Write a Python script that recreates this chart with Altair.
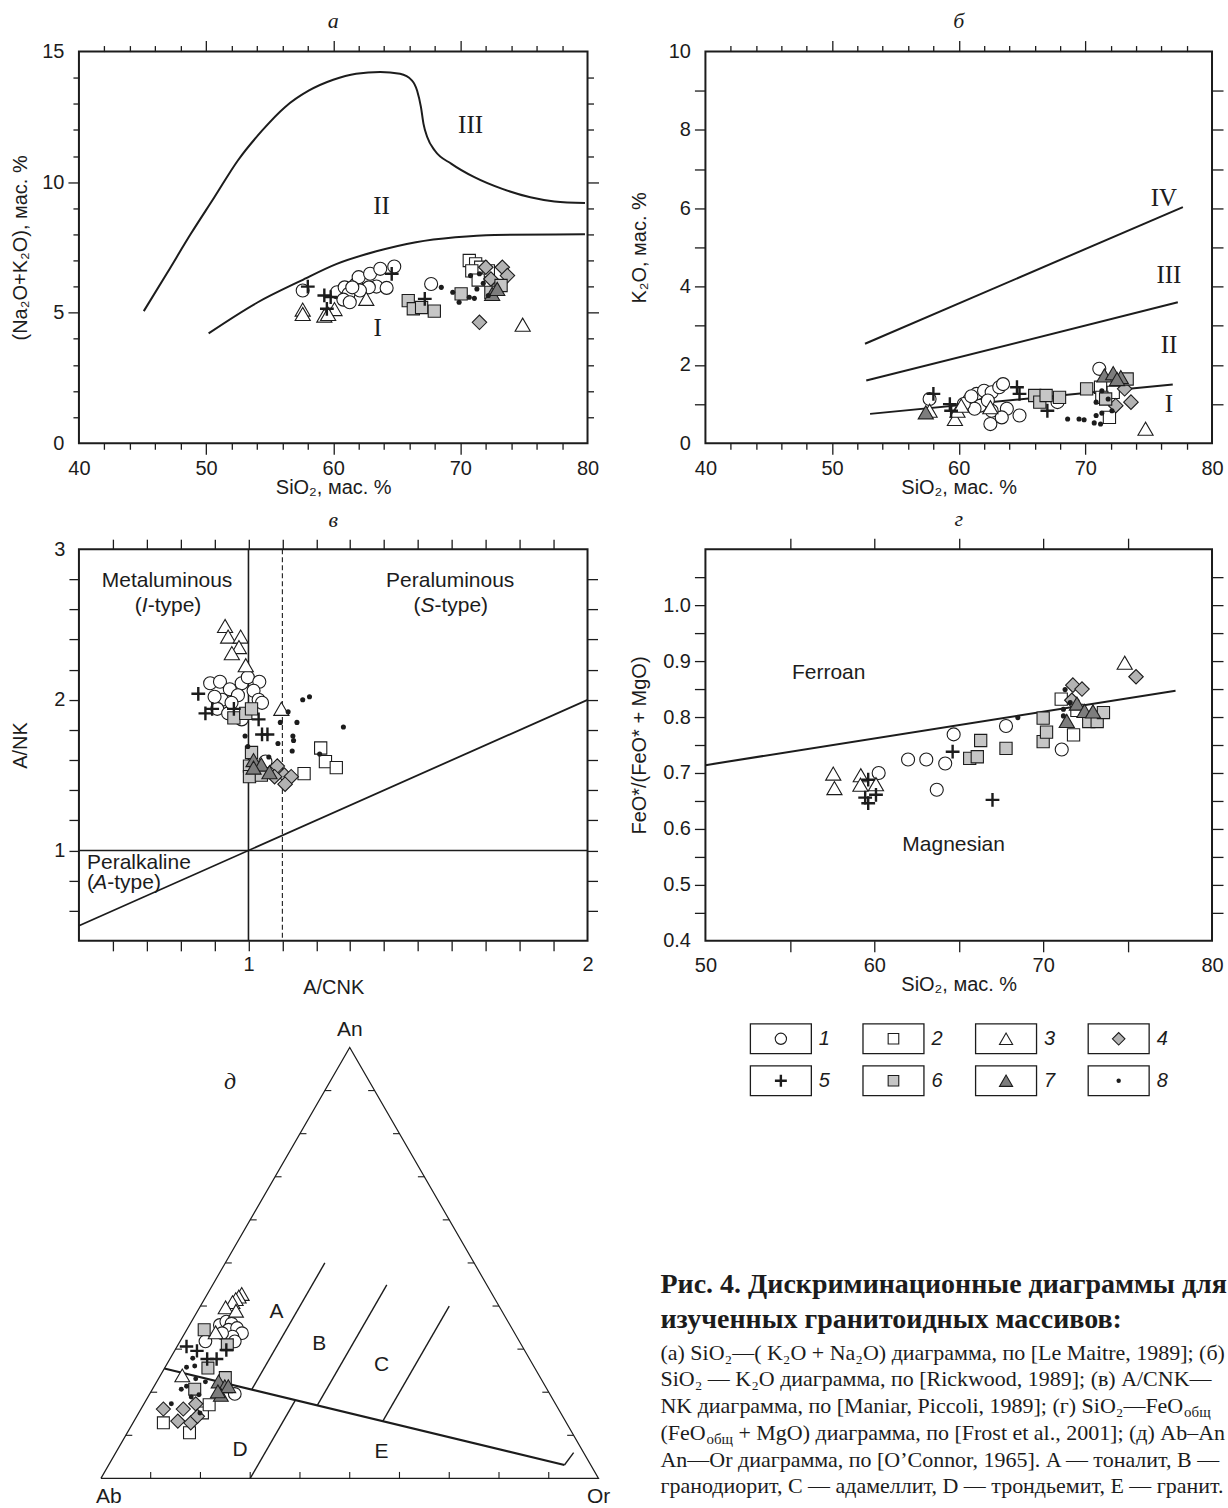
import math
import altair as alt
import pandas as pd

INK = "#1c1c1c"
SANS = "Liberation Sans"
SERIF = "Liberation Serif"
H3 = math.sqrt(3) / 2
CUT = "\u200b"  # invisible end marker used when long caption lines are trimmed

# ---------------------------------------------------------------------------
# (а) SiO2 – (Na2O+K2O): field boundaries
TAS_UPPER_SIO2 = [45.1, 46.9, 48.8, 50.65, 52.5, 54.4, 56.2, 58.1, 60.0, 61.8, 63.7, 65.25,
                  66.2, 66.6, 66.9, 67.1, 67.4, 68.0, 69.3, 71.1, 73.3, 75.5, 77.4, 79.8]
TAS_UPPER_ALK = [5.06, 6.49, 8.02, 9.42, 10.83, 11.97, 12.87, 13.51, 13.92, 14.15, 14.22, 14.15,
                 13.89, 13.5, 12.87, 12.23, 11.72, 11.2, 10.7, 10.19, 9.74, 9.42, 9.26, 9.2]
TAS_LOWER_SIO2 = [50.2, 54.07, 57.48, 60.28, 63.39, 66.5, 69.6, 72.7, 79.8]
TAS_LOWER_ALK = [4.21, 5.40, 6.23, 6.87, 7.35, 7.70, 7.89, 7.98, 8.0]
TAS_FIELDS = [("III", 70.8, 12.2), ("II", 63.8, 9.1), ("I", 63.5, 4.4)]

TAS_POINTS = {
    "1": [(57.6, 5.85), (60.3, 5.78), (60.9, 5.97), (61.2, 5.72), (61.8, 6.1), (62.0, 6.36),
          (62.9, 6.49), (63.7, 6.68), (64.8, 6.77), (63.4, 6.0), (64.2, 5.95), (62.8, 5.97),
          (62.1, 5.85), (61.5, 5.97), (67.7, 6.1), (60.8, 5.5), (61.3, 5.4)],
    "2": [(70.7, 7.0), (71.2, 6.87), (71.6, 6.74), (72.2, 6.6), (70.9, 6.6), (71.4, 6.25)],
    "3": [(57.6, 5.12), (57.6, 4.95), (59.3, 4.89), (60.1, 5.14), (62.6, 5.53), (74.9, 4.54),
          (59.6, 4.95)],
    "4": [(71.5, 4.63), (72.0, 6.74), (73.3, 6.74), (73.7, 6.42), (72.4, 6.29), (72.9, 5.97)],
    "5": [(58.0, 6.0), (59.3, 5.66), (59.5, 5.15), (64.6, 6.49), (67.2, 5.53), (59.8, 5.6)],
    "6": [(65.9, 5.46), (66.3, 5.15), (66.95, 5.2), (67.95, 5.06), (70.06, 5.72), (73.2, 6.04),
          (72.4, 5.78)],
    "7": [(72.5, 5.72), (72.9, 5.91)],
    "8": [(68.5, 5.97), (69.4, 5.78), (69.9, 5.4), (70.7, 5.59), (71.1, 5.55), (70.8, 6.42),
          (71.5, 6.49), (71.3, 5.91), (71.8, 6.13), (72.2, 5.66)],
}

# (б) SiO2 – K2O series boundaries
K2O_LINES = {
    "IV": ([52.6, 77.7], [2.54, 6.03]),
    "III": ([52.7, 77.3], [1.6, 3.6]),
    "II": ([53.0, 76.9], [0.75, 1.5]),
}
K2O_FIELDS = [("IV", 76.2, 6.25), ("III", 76.6, 4.3), ("II", 76.6, 2.5), ("I", 76.6, 1.0)]
K2O_POINTS = {
    "1": [(57.7, 1.13), (62.5, 0.49), (64.8, 0.71), (63.8, 0.88), (61.4, 1.26), (62.0, 1.34),
          (62.6, 1.30), (63.2, 1.43), (63.5, 1.51), (67.8, 1.05), (71.1, 1.9), (60.8, 1.09),
          (61.7, 0.96), (62.6, 0.83), (63.4, 0.66), (61.25, 0.88), (62.3, 1.09), (71.3, 1.34),
          (60.4, 1.0), (61.0, 1.2)],
    "2": [(71.2, 1.43), (72.2, 1.30), (71.9, 0.66), (71.3, 1.17)],
    "3": [(57.7, 0.83), (59.7, 0.62), (59.9, 0.83), (62.5, 0.92), (60.2, 0.96), (74.75, 0.37)],
    "4": [(73.1, 1.39), (73.6, 1.05), (72.4, 0.96)],
    "5": [(58.0, 1.26), (59.3, 1.0), (59.4, 0.83), (64.6, 1.43), (64.8, 1.26), (67.0, 0.83)],
    "6": [(66.0, 1.22), (66.4, 1.05), (66.9, 1.22), (67.96, 1.17), (70.1, 1.39), (73.3, 1.64),
          (71.6, 1.13)],
    "7": [(57.4, 0.79), (71.5, 1.73), (72.2, 1.79), (72.8, 1.69), (72.5, 1.64)],
    "8": [(68.6, 0.62), (69.5, 0.62), (69.9, 0.6), (70.7, 0.52), (71.2, 0.49), (70.85, 0.71),
          (71.3, 0.77), (70.85, 1.05), (71.3, 1.34), (71.8, 1.13), (72.1, 0.83)],
}

# (в) A/CNK – A/NK
SHAND_DIAG = ([0.5, 2.0], [0.5, 2.0])
SHAND_POINTS = {
    "1": [(0.887, 2.11), (0.916, 2.12), (0.945, 2.07), (0.98, 2.11), (0.998, 2.15), (1.032, 2.12),
          (1.015, 2.06), (0.922, 2.0), (0.969, 2.03), (0.908, 1.94), (0.94, 1.91), (0.98, 1.87),
          (1.03, 2.0), (1.04, 1.98), (1.05, 1.59), (0.95, 1.98), (0.9, 2.02)],
    "2": [(1.213, 1.68), (1.227, 1.59), (1.259, 1.55), (1.164, 1.51)],
    "3": [(0.931, 2.49), (0.94, 2.42), (0.977, 2.42), (0.972, 2.35), (0.951, 2.31), (0.992, 2.23),
          (1.097, 1.94)],
    "4": [(1.085, 1.56), (1.106, 1.50), (1.126, 1.49), (1.108, 1.44), (1.077, 1.49)],
    "5": [(0.852, 2.04), (0.873, 1.91), (0.893, 1.94), (0.957, 1.94), (1.03, 1.87), (1.04, 1.77),
          (1.056, 1.77)],
    "6": [(0.957, 1.88), (0.992, 1.91), (1.009, 1.94), (1.009, 1.65), (1.003, 1.56), (1.003, 1.49),
          (1.038, 1.50)],
    "7": [(1.015, 1.60), (1.038, 1.57), (1.062, 1.52), (1.015, 1.55)],
    "8": [(1.16, 2.0), (1.18, 2.02), (1.117, 1.92), (1.094, 1.85), (1.143, 1.85), (1.131, 1.76),
          (1.133, 1.73), (1.087, 1.71), (1.129, 1.66), (0.99, 1.76), (0.998, 1.69), (1.21, 1.64),
          (1.28, 1.82), (1.06, 1.62)],
}

# (г) SiO2 – FeO*/(FeO*+MgO)
FROST_LINE = ([50.0, 77.84], [0.714, 0.847])
FROST_FIELDS = [("Ferroan", 57.3, 0.878), ("Magnesian", 64.7, 0.571)]
FROST_POINTS = {
    "1": [(60.26, 0.70), (62.0, 0.724), (63.08, 0.724), (64.2, 0.717), (63.7, 0.67), (64.7, 0.769),
          (67.8, 0.784), (71.1, 0.742)],
    "2": [(71.07, 0.832), (71.8, 0.768), (72.0, 0.812)],
    "3": [(57.57, 0.699), (57.64, 0.673), (59.2, 0.696), (59.18, 0.679), (60.1, 0.68), (74.83, 0.897)],
    "4": [(71.76, 0.857), (72.3, 0.85), (75.5, 0.872), (71.7, 0.83)],
    "5": [(59.64, 0.688), (59.46, 0.656), (59.64, 0.646), (60.1, 0.661), (64.64, 0.738), (67.0, 0.652)],
    "6": [(65.65, 0.726), (66.1, 0.729), (66.3, 0.758), (67.8, 0.744), (70.0, 0.756), (70.0, 0.798),
          (70.2, 0.773), (72.7, 0.792), (73.2, 0.792), (73.57, 0.808)],
    "7": [(71.4, 0.793), (72.0, 0.824), (72.45, 0.811), (72.95, 0.81)],
    "8": [(68.5, 0.799), (71.3, 0.849), (71.6, 0.826), (71.2, 0.814), (71.2, 0.802)],
}

# (д) Ab – An – Or, compositions as (Or, An) fractions
OCONNOR_LINES = {
    "main": [(0.0, 0.255), (0.916, 0.031)],
    "hook": [(0.916, 0.031), (0.92, 0.06)],
    "ab": [(0.20, 0.206), (0.20, 0.50)],
    "bc": [(0.35, 0.169), (0.35, 0.449)],
    "c": [(0.50, 0.1325), (0.50, 0.40)],
    "de": [(0.30, 0.0), (0.30, 0.181)],
}
OCONNOR_FIELDS = [("A", 0.1595, 0.387), ("B", 0.283, 0.3115), ("C", 0.433, 0.262),
                  ("D", 0.247, 0.0655), ("E", 0.533, 0.0617)]
OCONNOR_POINTS = {
    "1": [(0.061, 0.356), (0.070, 0.364), (0.083, 0.359), (0.084, 0.345), (0.099, 0.349),
          (0.115, 0.337), (0.100, 0.329), (0.110, 0.318), (0.051, 0.318), (0.075, 0.337),
          (0.171, 0.196)],
    "2": [(0.061, 0.129), (0.125, 0.106), (0.128, 0.152), (0.132, 0.171)],
    "3": [(0.069, 0.428), (0.066, 0.422), (0.063, 0.416), (0.060, 0.409), (0.052, 0.397),
          (0.077, 0.389), (0.061, 0.339), (0.044, 0.239)],
    "4": [(0.045, 0.161), (0.085, 0.161), (0.088, 0.133), (0.116, 0.129), (0.104, 0.173),
          (0.122, 0.144)],
    "5": [(0.019, 0.306), (0.075, 0.277), (0.094, 0.277), (0.103, 0.298), (0.045, 0.296)],
    "6": [(0.035, 0.345), (0.099, 0.310), (0.087, 0.256), (0.085, 0.207), (0.133, 0.234)],
    "7": [(0.124, 0.225), (0.142, 0.214), (0.144, 0.194), (0.149, 0.214), (0.134, 0.202)],
    "8": [(0.045, 0.279), (0.043, 0.258), (0.058, 0.261), (0.075, 0.231), (0.065, 0.214),
          (0.058, 0.207), (0.098, 0.224), (0.055, 0.173), (0.123, 0.152), (0.100, 0.194),
          (0.087, 0.189)],
}

LEGEND_KEYS = ["1", "2", "3", "4", "5", "6", "7", "8"]

CAPTION_TITLE = ["Рис. 4. Дискриминационные диаграммы для",
                 "изученных гранитоидных массивов:"]
CAPTION_BODY = [
    "(а) SiO₂—( K₂O + Na₂O) диаграмма, по [Le Maitre, 1989]; (б)",
    "SiO₂ — K₂O диаграмма, по [Rickwood, 1989]; (в) A/CNK— A/",
    "NK диаграмма, по [Maniar, Piccoli, 1989]; (г) SiO₂—FeO",
    "(FeO",
    "An—Or диаграмма, по [O’Connor, 1965]. A — тоналит, B —",
    "гранодиорит, C — адамеллит, D — трондьемит, E — гранит.",
]
CAPTION_TAIL = " + MgO) диаграмма, по [Frost et al., 2001]; (д) Ab–An"

# ---------------------------------------------------------------------------
PLUS = "M-1,0H1M0,-1V1"
BOX = "M-1,-0.49L1,-0.49L1,0.49L-1,0.49Z"
MARKERS = {
    "1": dict(shape="circle", fill="white", size=170),
    "2": dict(shape="square", fill="white", size=150),
    "3": dict(shape="triangle-up", fill="white", size=230),
    "4": dict(shape="diamond", fill="#b3b3b3", size=210),
    "5": dict(shape=PLUS, fill=None, size=190),
    "6": dict(shape="square", fill="#c6c6c6", size=150),
    "7": dict(shape="triangle-up", fill="#7d7d7d", size=230),
    "8": dict(shape="circle", fill=INK, size=26),
}
DRAW_ORDER = ["1", "2", "3", "4", "6", "7", "5", "8"]


def lin(domain, reverse=False):
    if reverse:
        return alt.Scale(domain=domain, nice=False, zero=False, reverse=True)
    return alt.Scale(domain=domain, nice=False, zero=False)


def marker_mark(key, scale=1.0):
    st = MARKERS[key]
    kw = dict(shape=st["shape"], size=st["size"] * scale, opacity=1, stroke=INK)
    if key == "5":
        kw.update(filled=False, strokeWidth=2.4)
    elif key == "8":
        kw.update(filled=True, fill=INK, strokeWidth=0)
    else:
        kw.update(filled=True, fill=st["fill"], strokeWidth=1.1)
    return kw


def xy(xs, ys, xf="x", yf="y"):
    return dict(x=alt.X(f"{xf}:Q", scale=xs, axis=None), y=alt.Y(f"{yf}:Q", scale=ys, axis=None))


def groups(points, xs, ys, scale=1.0):
    out = []
    for key in DRAW_ORDER:
        df = pd.DataFrame(points[key], columns=["x", "y"])
        out.append(alt.Chart(df).mark_point(**marker_mark(key, scale)).encode(**xy(xs, ys)))
    return out


def curve(xv, yv, xs, ys, width=2.0, **style):
    df = pd.DataFrame({"x": xv, "y": yv, "i": list(range(len(xv)))})
    return alt.Chart(df).mark_line(color=INK, strokeWidth=width, **style).encode(
        order="i:Q", **xy(xs, ys))


def labels(rows, xs, ys, **style):
    df = pd.DataFrame(rows, columns=["t", "x", "y"])
    return alt.Chart(df).mark_text(color=INK, **style).encode(text="t:N", **xy(xs, ys))


AX_BASE = dict(domain=False, grid=False, tickColor=INK, tickWidth=1.3,
               labelFont=SANS, labelFontSize=20, labelColor=INK,
               labelFlush=False, labelOverlap=False)


def tick_axis(orient, values, size):
    return alt.Axis(orient=orient, values=values, tickSize=size, labels=False, title=None,
                    **AX_BASE)


def label_axis(orient, values, size, fmt, title, tx, ty):
    return alt.Axis(orient=orient, values=values, tickSize=size, tickOpacity=0, labels=True,
                    format=fmt, labelPadding=4, title=title, titleFont=SANS,
                    titleFontSize=20, titleFontWeight="normal", titleColor=INK,
                    titleX=tx, titleY=ty, titleAlign="center", titleBaseline="middle",
                    **AX_BASE)


def frame(xs, ys, w, h, fx, fy):
    """Mirrored tick frame: labelled bottom/left axes, tick-only top/right axes."""
    anchor = pd.DataFrame({"x": [fx["labels"][0]], "y": [fy["labels"][0]]})
    pairs = [
        (label_axis("bottom", fx["labels"], fx["long"], fx["fmt"], fx["title"], w / 2, fx["pos"]),
         label_axis("left", fy["labels"], fy["long"], fy["fmt"], fy["title"], fy["pos"], h / 2)),
        (tick_axis("bottom", fx["major"], fx["long"]), tick_axis("left", fy["major"], fy["long"])),
        (tick_axis("bottom", fx["minor"], fx["short"]), tick_axis("left", fy["minor"], fy["short"])),
        (tick_axis("top", fx["major"], fx["long"]), tick_axis("right", fy["major"], fy["long"])),
        (tick_axis("top", fx["minor"], fx["short"]), tick_axis("right", fy["minor"], fy["short"])),
    ]
    return [alt.Chart(anchor).mark_point(opacity=0).encode(
        x=alt.X("x:Q", scale=xs, axis=ax), y=alt.Y("y:Q", scale=ys, axis=ay)) for ax, ay in pairs]


def panel(layers, w, h, letter):
    return alt.layer(*layers).resolve_axis(x="independent", y="independent").properties(
        width=w, height=h,
        view=alt.ViewBackground(stroke=INK, strokeWidth=2),
        title=alt.TitleParams(letter, font=SERIF, fontStyle="italic", fontSize=22,
                              fontWeight="normal", color=INK, anchor="middle",
                              offset=-10, baseline="alphabetic"))


def steps(a, b, step, skip=()):
    n = int(round((b - a) / step))
    vals = [round(a + i * step, 4) for i in range(n + 1)]
    return [v for v in vals if all(abs(v - s) > 1e-9 for s in skip)]


W1, W2, H = 509, 507, 392

SIO2_X = dict(labels=[40, 50, 60, 70, 80], major=[50, 60, 70],
              minor=steps(42, 78, 2, skip=[50, 60, 70]), long=11, short=6, fmt="d",
              title="SiO₂, мас. %", pos=44)

# --- panel а
xs_a, ys_a = lin([40, 80]), lin([0, 15])
pa = panel(
    frame(xs_a, ys_a, W1, H, SIO2_X,
          dict(labels=[0, 5, 10, 15], major=[5, 10], minor=steps(1, 14, 1, skip=[5, 10]),
               long=11, short=6, fmt="d", title="(Na₂O+K₂O), мас. %", pos=-58))
    + [curve(TAS_UPPER_SIO2, TAS_UPPER_ALK, xs_a, ys_a, interpolate="monotone"),
       curve(TAS_LOWER_SIO2, TAS_LOWER_ALK, xs_a, ys_a, interpolate="monotone"),
       labels(TAS_FIELDS, xs_a, ys_a, font=SERIF, fontSize=25)]
    + groups(TAS_POINTS, xs_a, ys_a),
    W1, H, "а")

# --- panel б
xs_b, ys_b = lin([40, 80]), lin([0, 10])
pb = panel(
    frame(xs_b, ys_b, W2, H, SIO2_X,
          dict(labels=[0, 2, 4, 6, 8, 10], major=[2, 4, 6, 8], minor=[1, 3, 5, 7, 9],
               long=11, short=11, fmt="d", title="K₂O, мас. %", pos=-66))
    + [curve(v[0], v[1], xs_b, ys_b) for v in K2O_LINES.values()]
    + [labels(K2O_FIELDS, xs_b, ys_b, font=SERIF, fontSize=25)]
    + groups(K2O_POINTS, xs_b, ys_b),
    W2, H, "б")

# --- panel в
xs_v, ys_v = lin([0.5, 2.0]), lin([0.4, 3.0])
lbl = dict(font=SANS, fontSize=21)
pv = panel(
    frame(xs_v, ys_v, W1, H,
          dict(labels=[1, 2], major=steps(0.6, 1.9, 0.1), minor=[], long=10, short=10,
               fmt="d", title="A/CNK", pos=47),
          dict(labels=[1, 2, 3], major=steps(0.6, 2.8, 0.2), minor=[], long=10, short=10,
               fmt="d", title="A/NK", pos=-58))
    + [alt.Chart(pd.DataFrame({"x": [1.0]})).mark_rule(color=INK, strokeWidth=1.6).encode(
           x=alt.X("x:Q", scale=xs_v, axis=None)),
       alt.Chart(pd.DataFrame({"x": [1.1]})).mark_rule(color=INK, strokeWidth=1.1,
                                                       strokeDash=[5, 3]).encode(
           x=alt.X("x:Q", scale=xs_v, axis=None)),
       alt.Chart(pd.DataFrame({"y": [1.0]})).mark_rule(color=INK, strokeWidth=1.6).encode(
           y=alt.Y("y:Q", scale=ys_v, axis=None)),
       curve(SHAND_DIAG[0], SHAND_DIAG[1], xs_v, ys_v, width=1.8),
       labels([("Metaluminous", 0.76, 2.79), ("Peraluminous", 1.595, 2.79)], xs_v, ys_v, **lbl),
       labels([("I", 0.694, 2.624), ("S", 1.528, 2.624)], xs_v, ys_v, fontStyle="italic", **lbl),
       labels([("(", 0.694, 2.624)], xs_v, ys_v, align="right", dx=-3, **lbl),
       labels([("(", 1.528, 2.624)], xs_v, ys_v, align="right", dx=-7, **lbl),
       labels([("-type)", 0.694, 2.624)], xs_v, ys_v, align="left", dx=3, **lbl),
       labels([("-type)", 1.528, 2.624)], xs_v, ys_v, align="left", dx=7, **lbl),
       labels([("Peralkaline", 0.524, 0.916), ("(", 0.524, 0.783)], xs_v, ys_v, align="left",
              **lbl),
       labels([("A", 0.563, 0.783)], xs_v, ys_v, fontStyle="italic", **lbl),
       labels([("-type)", 0.563, 0.783)], xs_v, ys_v, align="left", dx=7, **lbl)]
    + groups(SHAND_POINTS, xs_v, ys_v),
    W1, H, "в")

# --- panel г
xs_g, ys_g = lin([50, 80]), lin([0.4, 1.1])
pg = panel(
    frame(xs_g, ys_g, W2, H,
          dict(labels=[50, 60, 70, 80], major=[55, 60, 65, 70, 75], minor=[], long=11, short=11,
               fmt="d", title="SiO₂, мас. %", pos=44),
          dict(labels=steps(0.4, 1.0, 0.1), major=steps(0.45, 1.05, 0.05), minor=[], long=11,
               short=11, fmt=".1f", title="FeO*/(FeO* + MgO)", pos=-66))
    + [curve(FROST_LINE[0], FROST_LINE[1], xs_g, ys_g),
       labels(FROST_FIELDS, xs_g, ys_g, **lbl)]
    + groups(FROST_POINTS, xs_g, ys_g),
    W2, H, "г")

# --- panel д (ternary); the cell is 453 px tall, apex at its top edge
HT = 453
xs_t, ys_t = lin([-0.0442, 0.9779]), lin([-0.0422, 0.8675])
TERN = {"tx": "datum.f_or + datum.f_an / 2", "ty": f"datum.f_an * {H3}"}


def tern_chart(df):
    return alt.Chart(df).transform_calculate(**TERN)


def tern_text(rows, **style):
    df = pd.DataFrame(rows, columns=["t", "f_or", "f_an"])
    return tern_chart(df).mark_text(color=INK, **style).encode(
        text="t:N", **xy(xs_t, ys_t, "tx", "ty"))


outline = pd.DataFrame({"f_or": [0, 1, 0, 0], "f_an": [0, 0, 1, 0], "i": [0, 1, 2, 3]})
tick_rows = []
TL = 0.013
for k in range(1, 10):
    f = k / 10
    tick_rows.append((f, 0.0, f, TL))                              # base, pointing up
    tick_rows.append((f / 2, f * H3, f / 2 + TL, f * H3))          # Ab–An side
    tick_rows.append((1 - f / 2, f * H3, 1 - f / 2 - TL, f * H3))  # Or–An side
ticks_t = pd.DataFrame(tick_rows, columns=["x", "y", "x2", "y2"])

seg_rows = []
for name, pts in OCONNOR_LINES.items():
    for i, (o, a) in enumerate(pts):
        seg_rows.append((name, i, o, a))
segs = pd.DataFrame(seg_rows, columns=["seg", "i", "f_or", "f_an"])

tern_layers = [
    tern_chart(outline).mark_line(color=INK, strokeWidth=1.2).encode(
        order="i:Q", **xy(xs_t, ys_t, "tx", "ty")),
    alt.Chart(ticks_t).mark_rule(color=INK, strokeWidth=1.1).encode(
        x=alt.X("x:Q", scale=xs_t, axis=None), y=alt.Y("y:Q", scale=ys_t, axis=None),
        x2="x2:Q", y2="y2:Q"),
    tern_chart(segs[segs.seg == "main"]).mark_line(color=INK, strokeWidth=2.2).encode(
        order="i:Q", **xy(xs_t, ys_t, "tx", "ty")),
    tern_chart(segs[segs.seg != "main"]).mark_line(color=INK, strokeWidth=1.4).encode(
        detail="seg:N", order="i:Q", **xy(xs_t, ys_t, "tx", "ty")),
    tern_text(OCONNOR_FIELDS, font=SANS, fontSize=21),
    tern_text([("An", 0.0, 1.0)], font=SANS, fontSize=21, dy=-18),
    tern_text([("Ab", 0.0, 0.0)], font=SANS, fontSize=21, dy=19, dx=8),
    tern_text([("Or", 1.0, 0.0)], font=SANS, fontSize=21, dy=19),
    tern_text([("д", -0.2, 0.919)], font=SERIF, fontSize=24, fontStyle="italic"),
]
for key in DRAW_ORDER:
    df = pd.DataFrame(OCONNOR_POINTS[key], columns=["f_or", "f_an"])
    tern_layers.append(tern_chart(df).mark_point(**marker_mark(key, 0.95)).encode(
        **xy(xs_t, ys_t, "tx", "ty")))
tern = alt.layer(*tern_layers).properties(width=W1, height=HT)

# --- legend boxes (cell origin: x 705, y 1047)
leg = pd.DataFrame({"k": LEGEND_KEYS,
                    "col": [i % 4 for i in range(8)],
                    "row": [i // 4 for i in range(8)]})
xs_l, ys_l = lin([-0.670, 3.829]), lin([0.1905, 10.976], reverse=True)
leg_layers = [alt.Chart(leg).mark_point(shape=BOX, size=3721, filled=False, stroke=INK,
                                        strokeWidth=1.3, opacity=1).encode(
    **xy(xs_l, ys_l, "col", "row"))]
for key in LEGEND_KEYS:
    leg_layers.append(alt.Chart(leg[leg.k == key]).mark_point(**marker_mark(key, 0.75)).encode(
        **xy(xs_l, ys_l, "col", "row")))
leg_layers.append(alt.Chart(leg).mark_text(font=SANS, fontSize=20, fontStyle="italic",
                                           color=INK, align="left", dx=38).encode(
    text="k:N", **xy(xs_l, ys_l, "col", "row")))
legend = alt.layer(*leg_layers)

# --- caption block, starting 45 px left of the cell
cap_t = pd.DataFrame({"i": [0, 1], "t": CAPTION_TITLE})
cap_b = pd.DataFrame({"i": list(range(6)), "t": CAPTION_BODY})
ys_ct = lin([-6.8, 6.143], reverse=True)
ys_cb = lin([-11.418, 5.485], reverse=True)
body_style = dict(font=SERIF, fontSize=22, color=INK, align="left", baseline="middle",
                  ellipsis=CUT)


def cap_line(df, ys, **style):
    return alt.Chart(df).mark_text(**style).encode(
        x=alt.value(-45), y=alt.Y("i:Q", scale=ys, axis=None), text="t:N")


cap_title = cap_line(cap_t, ys_ct, font=SERIF, fontSize=28, fontWeight="bold", color=INK,
                     align="left", baseline="middle", limit=568, ellipsis=CUT)
cap_body = alt.layer(
    cap_line(cap_b, ys_cb, limit=568, **body_style),
    cap_line(pd.DataFrame({"i": [2], "t": ["общ"]}), ys_cb, limit=44, dx=524, dy=6,
             **dict(body_style, fontSize=15)),
    cap_line(pd.DataFrame({"i": [3], "t": ["общ"]}), ys_cb, limit=60, dx=46, dy=6,
             **dict(body_style, fontSize=15)),
    cap_line(pd.DataFrame({"i": [3], "t": [CAPTION_TAIL]}), ys_cb, limit=490, dx=78,
             **body_style),
)
caption = alt.layer(cap_title, cap_body).resolve_scale(y="independent")

right = alt.layer(legend, caption).resolve_scale(x="independent", y="independent").properties(
    width=W2, height=HT)

chart = alt.concat(pa, pb, pv, pg, tern, right, columns=2,
                   spacing={"row": 106, "column": 118}, bounds="flush").properties(
    padding={"left": 10, "top": 8, "right": 0, "bottom": 0},
    background="white",
).configure_view(stroke="transparent")

chart.save("out.html", embed_options={"renderer": "svg", "actions": False})
